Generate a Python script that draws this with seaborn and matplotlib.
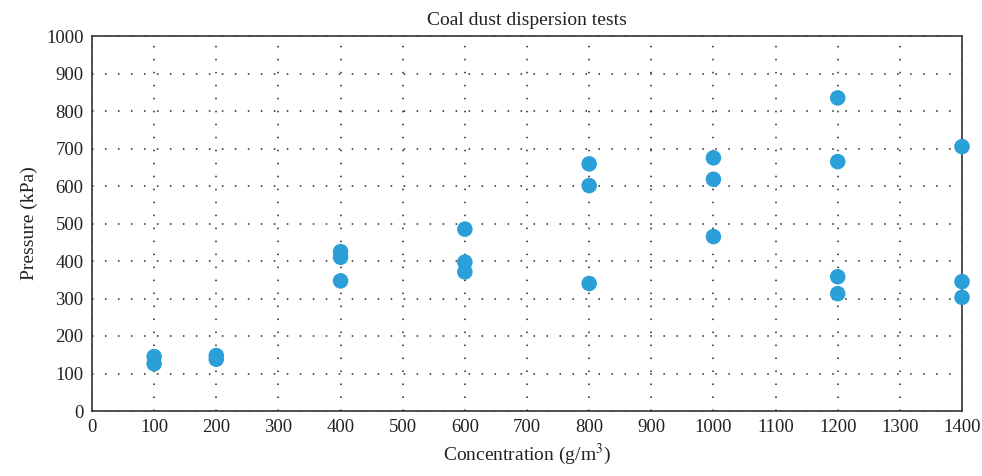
import numpy as np
import pandas as pd
import matplotlib.pyplot as plt
import seaborn as sns

sns.set_theme(style="white")
plt.rcParams["font.family"] = ["Liberation Serif", "DejaVu Serif"]
plt.rcParams["mathtext.fontset"] = "stix"

# Concentration (g/m3) and measured pressure (kPa)
concentration = [100, 100, 200, 200,
                 400, 400, 400,
                 600, 600, 600,
                 800, 800, 800,
                 1000, 1000, 1000,
                 1200, 1200, 1200, 1200,
                 1400, 1400, 1400]
pressure = [145, 126, 148, 138,
            425, 410, 347,
            485, 397, 371,
            659, 601, 340,
            675, 618, 465,
            835, 665, 358, 313,
            705, 345, 303]

df = pd.DataFrame({"Concentration": concentration, "Pressure": pressure})

fig = plt.figure(figsize=(9.82, 4.76), dpi=100)
ax = fig.add_axes([92 / 982, 1 - 411 / 476, 870 / 982, 375 / 476])

sns.scatterplot(data=df, x="Concentration", y="Pressure", ax=ax,
                color="#2a9fd8", s=125, edgecolor="none", clip_on=False, zorder=3)

ax.set_xlim(0, 1400)
ax.set_ylim(0, 1000)
ax.set_xticks(np.arange(0, 1401, 100))
ax.set_yticks(np.arange(0, 1001, 100))
ax.tick_params(axis="both", length=0, labelsize=13.5, pad=6, colors="#222222")
ax.grid(True, linestyle=(0, (1, 7.5)), color="#222222", linewidth=1.1)

for sp in ax.spines.values():
    sp.set_visible(True)
    sp.set_color("#333333")
    sp.set_linewidth(1.2)

ax.set_title("Coal dust dispersion tests", fontsize=14, color="#222222", pad=8)
ax.set_xlabel("Concentration (g/m$^3$)", fontsize=14, color="#222222", labelpad=4)
ax.set_ylabel("Pressure (kPa)", fontsize=14, color="#222222", labelpad=6)

fig.savefig("out.png", dpi=100)
